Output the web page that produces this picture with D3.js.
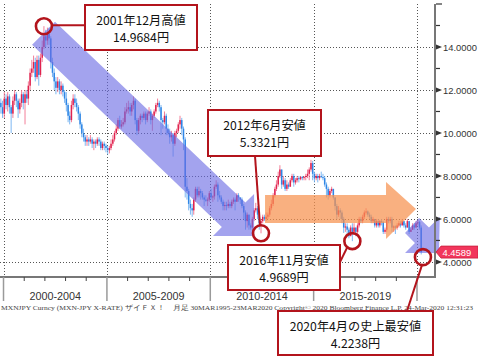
<!DOCTYPE html>
<html><head><meta charset="utf-8">
<script src="https://cdn.jsdelivr.net/npm/d3@7"></script>
<style>html,body{margin:0;padding:0;background:#fff}svg{display:block}</style>
</head><body>
<svg id="c" width="478" height="359"></svg>
<script>
// ---- data (monthly candles, MXN/JPY) ----
const startYear = 1999, startMonth = 10; // Nov 1999 (0-based month)
const firstOpen = 11.4;
const closes = [
 11.2,10.9,
 11.6,11.3,11.7,11.2,10.9,11.5,11.8,11.5,11.1,11.4,11.8,11.4,
 11.8,11.6,12.2,12.8,13.0,13.3,12.6,13.4,12.7,13.5,14.0,14.5,
 14.3,14.6,14.4,13.3,12.8,12.4,12.1,12.4,12.0,12.2,11.9,11.6,
 11.3,10.8,10.6,11.3,11.6,11.4,11.2,10.9,10.4,10.0,9.8,9.6,
 9.7,9.6,9.7,9.5,9.6,9.5,9.7,9.6,9.3,9.5,9.4,9.3,
 9.2,9.3,9.5,9.7,10.0,10.2,10.6,10.3,10.4,10.5,11.0,11.1,
 11.2,11.0,11.3,11.5,10.6,10.1,10.6,10.8,10.7,10.9,10.6,10.9,
 11.0,10.6,10.8,11.0,11.3,11.4,11.2,10.6,10.5,10.8,10.2,10.0,
 9.8,9.9,9.5,10.0,10.1,10.4,10.6,10.2,9.7,7.5,7.3,6.7,
 6.5,6.4,6.9,7.4,7.1,7.3,7.2,7.0,6.9,6.85,6.9,7.2,
 7.0,7.05,7.5,7.6,7.1,7.0,6.8,6.6,6.65,6.6,6.7,6.6,
 6.8,6.9,6.8,7.1,7.0,6.9,6.6,6.3,5.9,6.2,5.7,5.6,
 6.0,6.4,6.5,6.2,5.8,5.9,6.1,6.0,6.1,6.2,6.5,6.7,
 7.1,7.4,7.6,8.0,8.3,7.6,7.8,7.4,7.6,7.5,7.8,8.0,
 7.7,7.8,7.9,7.85,7.95,7.9,7.95,8.0,8.1,8.3,8.6,8.1,
 7.9,8.0,7.9,8.0,7.95,7.9,7.6,7.4,7.1,7.3,7.4,7.0,
 6.6,6.2,6.4,6.3,6.0,5.6,5.65,5.5,5.2,5.6,5.4,5.6,
 5.4,5.7,6.0,5.9,6.1,6.3,6.35,6.2,6.1,5.9,6.0,5.7,
 5.9,5.7,5.9,5.85,5.4,5.5,6.0,5.9,6.0,5.6,5.65,5.6,
 5.7,5.8,5.7,5.9,5.7,5.6,5.9,5.4,5.5,5.7,5.6,5.8,
 5.85,5.6,4.4589
];
const highs = [
 11.6,11.5,
 11.9,11.8,11.9,11.8,11.3,11.7,12.0,11.9,11.6,11.6,12.0,11.9,
 12.0,12.0,12.4,13.0,13.4,13.6,13.5,13.6,13.6,13.7,14.3,14.9684,
 14.8,14.9,14.9,14.5,13.5,13.0,12.6,12.6,12.5,12.4,12.3,12.0,
 11.9,11.4,11.0,11.5,11.8,11.8,11.6,11.3,11.0,10.5,10.2,9.9,
 9.9,9.8,9.9,9.8,9.7,9.7,9.8,9.8,9.7,9.6,9.6,9.5,
 9.4,9.4,9.7,9.9,10.1,10.4,10.7,10.8,10.6,10.7,11.2,11.4,
 11.5,11.4,11.4,11.7,11.6,10.7,10.7,10.9,10.9,11.0,11.0,11.0,
 11.2,11.1,10.9,11.1,11.4,11.6,11.5,11.3,10.7,11.0,10.9,10.4,
 10.2,10.1,10.0,10.1,10.2,10.5,10.8,10.7,10.3,9.8,7.9,7.4,
 6.9,6.7,7.0,7.5,7.5,7.5,7.4,7.3,7.1,7.1,7.0,7.3,
 7.4,7.1,7.6,7.8,7.7,7.3,7.1,6.9,6.8,6.8,6.9,6.8,
 6.9,7.0,7.0,7.2,7.2,7.0,7.0,6.7,6.4,6.3,6.2,5.8,
 6.1,6.5,6.75,6.6,6.3,6.0,6.2,6.2,6.3,6.3,6.6,6.9,
 7.2,7.5,7.8,8.2,8.5,8.3,8.0,7.9,7.8,7.7,7.9,8.1,
 8.1,7.9,8.0,8.0,8.0,8.0,8.0,8.1,8.3,8.4,8.75,8.7,
 8.2,8.1,8.1,8.1,8.2,8.1,8.0,7.7,7.5,7.4,7.5,7.4,
 7.0,6.7,6.6,6.5,6.4,6.1,5.8,5.8,5.6,5.7,5.8,5.8,
 5.6,5.8,6.1,6.1,6.2,6.4,6.5,6.4,6.3,6.2,6.1,6.0,
 6.0,6.0,5.95,6.0,5.9,5.6,6.1,6.1,6.1,6.1,5.7,5.7,
 5.8,5.9,5.9,6.0,5.9,5.8,6.0,5.9,5.6,5.8,5.8,5.9,
 5.95,5.9,5.7
];
const lows = [
 10.9,10.7,
 10.7,11.1,11.0,10.9,10.0,10.7,11.3,11.2,10.7,10.9,11.2,11.1,
 10.4,11.4,11.3,12.0,12.6,12.8,12.4,12.5,12.2,12.6,13.3,13.9,
 14.0,14.1,14.1,13.0,12.6,12.0,11.8,11.9,11.8,11.8,11.7,11.4,
 11.0,10.5,10.4,10.5,11.1,11.2,11.0,10.6,10.2,9.8,9.6,9.4,
 9.4,9.4,9.5,9.3,9.2,9.3,9.4,9.4,9.2,9.2,9.2,9.1,
 9.0,9.05,9.2,9.4,9.6,9.9,10.1,10.2,10.2,10.3,10.4,10.9,
 10.9,10.8,10.8,11.1,10.4,9.9,10.0,10.4,10.5,10.6,10.4,10.5,
 10.8,10.4,10.1,10.7,10.9,11.2,11.0,9.9,10.2,10.4,9.9,9.9,
 9.5,9.6,8.9,9.4,9.8,10.0,10.2,9.9,9.2,7.0,6.9,6.4,
 6.2,6.1,6.2,6.8,7.0,7.0,6.9,6.9,6.6,6.8,6.6,6.8,
 6.9,6.8,6.9,7.4,6.8,6.9,6.7,6.4,6.4,6.4,6.5,6.5,
 6.5,6.7,6.4,6.8,6.8,6.7,6.5,6.0,5.5,5.6,5.5,5.5,
 5.5,5.9,6.3,6.0,5.5,5.3321,5.8,5.9,5.9,6.0,6.1,6.4,
 6.6,7.0,7.3,7.5,7.9,7.4,7.5,7.3,7.3,7.4,7.5,7.7,
 7.5,7.6,7.7,7.7,7.8,7.8,7.8,7.8,7.9,7.8,8.2,7.8,
 7.7,7.8,7.7,7.8,7.9,7.8,7.5,7.0,6.9,7.0,7.2,6.9,
 6.4,6.0,6.1,6.0,5.8,5.35,5.4,5.3,5.1,5.2,4.9689,5.4,
 5.2,5.3,5.6,5.8,5.8,6.0,6.2,6.1,6.0,5.8,5.8,5.6,
 5.6,5.6,5.6,5.7,5.3,5.3,5.4,5.8,5.8,5.4,5.4,5.3,
 5.5,5.6,5.6,5.7,5.6,5.5,5.6,5.3,5.4,5.5,5.5,5.6,
 5.7,5.5,4.35
];
const yMajorTicks = [4,6,8,10,12,14];
const yMinorTicks = [5,7,9,11,13,15,16];
const periodBounds = [2000,2005,2010,2015,2020];
const periodLabels = ["2000-2004","2005-2009","2010-2014","2015-2019"];
const lastPrice = 4.4589;
const footer = "MXNJPY Curncy (MXN-JPY X-RATE) ザイＦＸ！　月足 30MAR1995-23MAR2020 Copyright© 2020 Bloomberg Finance L.P. 24-Mar-2020 12:31:23";
const calloutLines1 = ["2001年12月高値","2012年6月安値","2016年11月安値","2020年4月の史上最安値"];
const calloutLines2 = ["14.9684円","5.3321円","4.9689円","4.2238円"];
const calloutDates = ["2001-12","2012-06","2016-11","2020-04"];
const calloutValues = [14.9684,5.3321,4.9689,4.2238];
// trend arrows in [decimal year, value]
const downArrow = [[2001.38,14.11],[2002.49,15.18],[2011.70,6.76],[2012.12,7.16],[2012.12,5.21],[2010.13,5.21],[2010.56,5.63]];
const sideArrow = [[2012.65,7.12],[2018.50,7.12],[2018.50,7.72],[2019.95,6.46],[2018.50,5.07],[2018.50,5.81],[2012.65,5.81]];
const endArrow = [[2019.42,5.35],[2020.10,6.05],[2020.58,5.60],[2021.10,6.10],[2021.06,4.42],[2019.42,4.42],[2019.90,4.88]];

// ---- scales ----
const svg = d3.select("#c");
const x = d3.scaleTime().domain([new Date(1999,9,31), new Date(2020,10,14)]).range([0,435]);
const y = d3.scaleLinear().domain([3.3,16]).range([277,4]);
const dy = v => { const yr = Math.floor(v); return new Date(new Date(yr,0,1).getTime() + (v-yr)*365.25*864e5); };
const ym = s => { const [a,b] = s.split("-").map(Number); return new Date(a,b-1,15); };

const candles = closes.map((c,i)=>({
  date: new Date(startYear, startMonth+i, 15),
  open: i===0 ? firstOpen : closes[i-1], close: c, high: highs[i], low: lows[i]
}));

// ---- grid ----
const grid = svg.append("g").attr("stroke","#555").attr("stroke-width",1).attr("stroke-dasharray","1,2");
grid.selectAll("line.h").data(yMajorTicks).join("line")
  .attr("x1",0).attr("x2",435).attr("y1",d=>Math.round(y(d))+0.5).attr("y2",d=>Math.round(y(d))+0.5);
grid.selectAll("line.v").data(periodBounds).join("line")
  .attr("x1",d=>Math.round(x(new Date(d,0,1)))+0.5).attr("x2",d=>Math.round(x(new Date(d,0,1)))+0.5)
  .attr("y1",4).attr("y2",277);

// ---- candles ----
const cg = svg.append("g");
cg.selectAll("line").data(candles).join("line")
  .attr("x1",d=>x(d.date)).attr("x2",d=>x(d.date))
  .attr("y1",d=>y(d.high)).attr("y2",d=>y(d.low))
  .attr("stroke",d=>d.close>=d.open?"#f0708c":"#6fb0f0").attr("stroke-width",0.9);
cg.selectAll("rect").data(candles).join("rect")
  .attr("x",d=>x(d.date)-0.75).attr("width",1.5)
  .attr("y",d=>y(Math.max(d.open,d.close)))
  .attr("height",d=>Math.max(1,Math.abs(y(d.open)-y(d.close))))
  .attr("fill",d=>d.close>=d.open?"#e0234f":"#2f86e6");

// ---- trend arrows ----
const poly = pts => pts.map(p=>[x(dy(p[0])),y(p[1])].join(",")).join(" ");
svg.append("polygon").attr("points",poly(sideArrow)).attr("fill","#f7914f").attr("opacity",0.72);
svg.append("polygon").attr("points",poly(downArrow)).attr("fill","#6a6ae4").attr("opacity",0.62);
svg.append("polygon").attr("points",poly(endArrow)).attr("fill","#6a6ae4").attr("opacity",0.62);

// ---- axes ----
const ax = svg.append("g");
ax.append("line").attr("x1",435).attr("x2",435).attr("y1",4).attr("y2",278).attr("stroke","#777").attr("stroke-width",2);
ax.append("line").attr("x1",0).attr("x2",436).attr("y1",277).attr("y2",277).attr("stroke","#777").attr("stroke-width",2);
ax.selectAll("path.mt").data(yMajorTicks).join("path")
  .attr("d",d=>{const yy=y(d);return `M436,${yy-2.5}L442,${yy}L436,${yy+2.5}Z`;}).attr("fill","#333");
ax.selectAll("line.mn").data(yMinorTicks).join("line")
  .attr("x1",436).attr("x2",d=>d===16?442:440).attr("y1",d=>y(d)).attr("y2",d=>y(d)).attr("stroke","#333").attr("stroke-width",1.2);
ax.selectAll("text.yl").data(yMajorTicks).join("text")
  .attr("x",443).attr("y",d=>y(d)+3.6).attr("font-family","Liberation Sans, Arial, sans-serif").attr("font-size",9.4)
  .attr("fill","#333").text(d=>d3.format(".4f")(d));
const years = d3.range(2000,2021);
ax.selectAll("line.yt").data(years).join("line")
  .attr("x1",d=>x(new Date(d,0,1))).attr("x2",d=>x(new Date(d,0,1)))
  .attr("y1",277).attr("y2",d=>d%5===0?301:281)
  .attr("stroke",d=>d%5===0?"#9a9a9a":"#444").attr("stroke-width",d=>d%5===0?1.5:1);
ax.selectAll("text.pl").data(periodLabels).join("text")
  .attr("x",(d,i)=>(x(new Date(periodBounds[i],0,1))+x(new Date(periodBounds[i+1],0,1)))/2)
  .attr("y",300).attr("text-anchor","middle").attr("font-family","Liberation Sans, Arial, sans-serif")
  .attr("font-size",10.8).attr("fill","#333").text(d=>d);
svg.append("text").attr("x",1).attr("y",310).attr("font-family","Liberation Serif, DejaVu Serif, serif")
  .attr("font-size",6.6).attr("fill","#444").attr("textLength",472).attr("lengthAdjust","spacingAndGlyphs").text(footer);

// last price tag
const ly = y(lastPrice);
svg.append("path").attr("d",`M436,${ly}L441,${ly-6}L478,${ly-6}L478,${ly+6}L441,${ly+6}Z`)
  .attr("fill","#f2365c").attr("stroke","#c81e3c").attr("stroke-width",0.8);
svg.append("text").attr("x",442.5).attr("y",ly+3.5).attr("font-family","Liberation Sans, Arial, sans-serif")
  .attr("font-size",9.4).attr("fill","#fff").text(d3.format(".4f")(lastPrice));

// ---- callouts ----
const red = "#b3141c";
const boxes = [ {x:85,y:5,w:112,h:45}, {x:208,y:110,w:113,h:46}, {x:228,y:245,w:112,h:45}, {x:278,y:311,w:155,h:44} ];
const links = [ (cx,cy)=>[[cx+8,cy-1],[85,cy-1]], (cx,cy)=>[[255,156],[cx-1,cy-8]], (cx,cy)=>[[340,262],[cx-5,cy+6]], (cx,cy)=>[[407,311],[cx-1,cy+8]] ];
const cgp = svg.append("g");
calloutLines1.forEach((t,i)=>{
  const cx = x(ym(calloutDates[i])), cy = y(calloutValues[i]);
  const b = boxes[i];
  const l = links[i](cx,cy);
  cgp.append("line").attr("x1",l[0][0]).attr("y1",l[0][1]).attr("x2",l[1][0]).attr("y2",l[1][1]).attr("stroke",red).attr("stroke-width",2);
  cgp.append("circle").attr("cx",cx).attr("cy",cy).attr("r",8).attr("fill","none").attr("stroke",red).attr("stroke-width",2.6);
  cgp.append("rect").attr("x",b.x).attr("y",b.y).attr("width",b.w).attr("height",b.h).attr("fill","#fff").attr("stroke",red).attr("stroke-width",2);
  const tx = b.x + b.w/2;
  cgp.append("text").attr("x",tx).attr("y",b.y+19.5).attr("text-anchor","middle").attr("font-family","Noto Sans CJK JP, sans-serif")
    .attr("font-size",12.2).attr("fill","#111").text(t);
  cgp.append("text").attr("x",tx).attr("y",b.y+36.5).attr("text-anchor","middle").attr("font-family","Noto Sans CJK JP, sans-serif")
    .attr("font-size",12.2).attr("fill","#111").text(calloutLines2[i]);
});
</script>
</body></html>
